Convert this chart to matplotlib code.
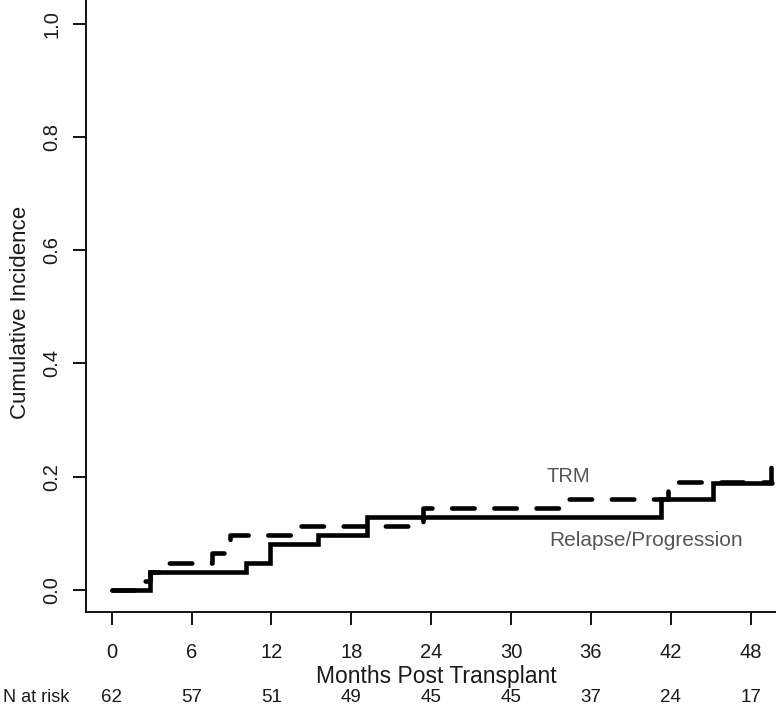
import matplotlib
matplotlib.use("Agg")
import matplotlib.pyplot as plt
from matplotlib.transforms import blended_transform_factory

plt.rcParams['font.family'] = ['Liberation Sans', 'DejaVu Sans']

# Relapse/Progression (solid)
rel_t = [0, 2.9, 10.1, 11.9, 15.5, 19.2, 41.3, 45.2, 49.6]
rel_y = [0.0, 0.032, 0.048, 0.081, 0.097, 0.129, 0.161, 0.189, 0.189]

# TRM (dashed)
trm_t = [0, 2.1, 2.9, 3.6, 7.5, 8.9, 13.6, 23.4, 33.7, 41.8, 49.5, 49.6]
trm_y = [0.0, 0.016, 0.032, 0.048, 0.065, 0.097, 0.113, 0.145, 0.161, 0.19, 0.233, 0.233]

xticks = [0, 6, 12, 18, 24, 30, 36, 42, 48]
yticks = [0.0, 0.2, 0.4, 0.6, 0.8, 1.0]
ytick_labels = ["0.0", "0.2", "0.4", "0.6", "0.8", "1.0"]
n_at_risk = [62, 57, 51, 49, 45, 45, 37, 24, 17]

fig = plt.figure(figsize=(7.79, 7.08), dpi=100)
ax = fig.add_axes([86/779, (708-612)/708, 689/779, 612/708])

ax.step(rel_t, rel_y, where='post', color='black', lw=3.3,
        solid_capstyle='round', solid_joinstyle='miter')
ln, = ax.step(trm_t, trm_y, where='post', color='black', lw=3.3,
              dash_capstyle='round')
ln.set_dashes([4.9, 4.3])

ax.set_xlim(-1.93, 49.83)
ax.set_ylim(-0.039, 1.042)

for s in ['top', 'right']:
    ax.spines[s].set_visible(False)
for s in ['left', 'bottom']:
    ax.spines[s].set_linewidth(1.4)
    ax.spines[s].set_color('#111111')

ax.set_xticks(xticks)
ax.set_xticklabels([str(x) for x in xticks])
ax.set_yticks(yticks)
ax.set_yticklabels(ytick_labels, rotation=90, va='center')
ax.tick_params(axis='both', length=9.5, width=1.4, color='#111111',
               labelsize=14.5, labelcolor='#1a1a1a')
ax.tick_params(axis='x', pad=13)
ax.tick_params(axis='y', pad=8)

ax.set_ylabel("Cumulative Incidence", fontsize=16, color='#1a1a1a')
ax.yaxis.set_label_coords(-0.080, 0.49)

ax.text(0.509, -0.1046, "Months Post Transplant", transform=ax.transAxes,
        ha='center', va='center', fontsize=16.5, color='#1a1a1a')

trans = blended_transform_factory(ax.transData, ax.transAxes)
for x, n in zip(xticks, n_at_risk):
    ax.text(x, -0.139, str(n), transform=trans, ha='center', va='center',
            fontsize=13.5, color='#1a1a1a', clip_on=False)
fig.text(3/779, 1 - 697/708, "N at risk", ha='left', va='center',
         fontsize=13, color='#1a1a1a')

ax.text(32.7, 0.20, "TRM", ha='left', va='center', fontsize=14.5, color='#555555')
ax.text(32.9, 0.087, "Relapse/Progression", ha='left', va='center',
        fontsize=15, color='#555555')

fig.savefig("out.png", dpi=100)
